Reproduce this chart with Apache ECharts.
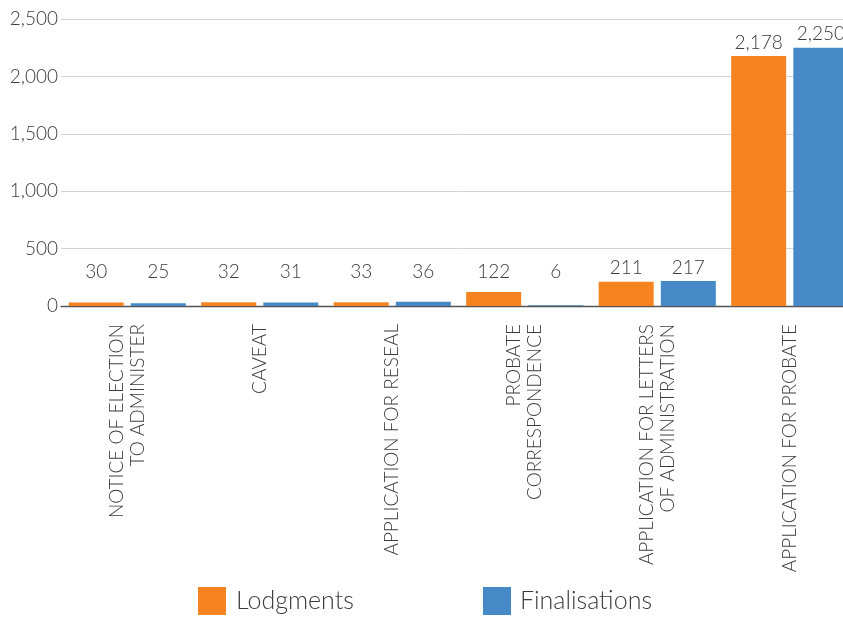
<!DOCTYPE html>
<html>
<head>
<meta charset="utf-8">
<script src="https://cdn.jsdelivr.net/npm/echarts@6/dist/echarts.min.js"></script>
<style>
  html, body { margin: 0; padding: 0; background: #fff; overflow: hidden; }
  /* the original plot runs a little past the right edge of the picture */
  #chart { width: 856px; height: 617px; }
</style>
</head>
<body>
<div id="chart"></div>
<script>
const categories = [
  "NOTICE OF ELECTION\nTO ADMINISTER",
  "CAVEAT",
  "APPLICATION FOR RESEAL",
  "PROBATE\nCORRESPONDENCE",
  "APPLICATION FOR LETTERS\nOF ADMINISTRATION",
  "APPLICATION FOR PROBATE",
];
const lodgments = [30, 32, 33, 122, 211, 2178];
const finalisations = [25, 31, 36, 6, 217, 2250];
const yTicks = [0, 500, 1000, 1500, 2000, 2500];

// value labels sit no lower than this, as in the original
const labelFloor = 180;

const orange = "#F58420";
const blue = "#458AC6";
const textColor = "#3b3b3b";
const font = "Lato";

const chart = echarts.init(document.getElementById("chart"));

const barBase = { type: "bar", barWidth: 55, barGap: "13%" };

function labelSeries(name, values) {
  return {
    ...barBase,
    name: name + " label",
    xAxisIndex: 1,
    silent: true,
    itemStyle: { color: "transparent" },
    data: values.map((v) => ({ value: Math.max(v, labelFloor), raw: v })),
    label: {
      show: true,
      position: "top",
      distance: 4,
      color: textColor,
      fontFamily: font,
      fontWeight: 300,
      fontSize: 19,
      formatter: (p) => p.data.raw.toLocaleString("en-US"),
    },
  };
}

const legendText = { color: textColor, fontFamily: font, fontWeight: 300, fontSize: 25 };

chart.setOption({
  animation: false,
  grid: { left: 61, right: 0, top: 19, bottom: 311 },
  legend: [
    {
      left: 198,
      top: 587,
      padding: 0,
      itemWidth: 28,
      itemHeight: 28,
      icon: "rect",
      data: ["Lodgments"],
      textStyle: { ...legendText, padding: [0, 0, 0, 5] },
    },
    {
      left: 483,
      top: 587,
      padding: 0,
      itemWidth: 28,
      itemHeight: 28,
      icon: "rect",
      data: ["Finalisations"],
      textStyle: { ...legendText, padding: [0, 0, 0, 4] },
    },
  ],
  xAxis: [
    {
      type: "category",
      data: categories,
      axisLine: { lineStyle: { color: "#555", width: 1.3 } },
      axisTick: { length: 18, lineStyle: { color: "#333", width: 1.3 }, interval: (i) => i > 0 },
      axisLabel: {
        rotate: 90,
        interval: 0,
        margin: 18,
        color: textColor,
        fontFamily: font,
        fontWeight: 300,
        fontSize: 19,
        lineHeight: 21,
      },
    },
    { type: "category", data: categories, show: false },
  ],
  yAxis: {
    type: "value",
    min: yTicks[0],
    max: yTicks[yTicks.length - 1],
    interval: 500,
    axisLine: { show: false },
    axisTick: { show: false },
    splitLine: { lineStyle: { color: "#d4d4d4", width: 1 } },
    axisLabel: {
      margin: 3,
      color: textColor,
      fontFamily: font,
      fontWeight: 300,
      fontSize: 19,
      formatter: (v) => v.toLocaleString("en-US"),
    },
  },
  series: [
    { ...barBase, name: "Lodgments", itemStyle: { color: orange }, data: lodgments },
    { ...barBase, name: "Finalisations", itemStyle: { color: blue }, data: finalisations },
    labelSeries("Lodgments", lodgments),
    labelSeries("Finalisations", finalisations),
  ],
});
</script>
</body>
</html>
